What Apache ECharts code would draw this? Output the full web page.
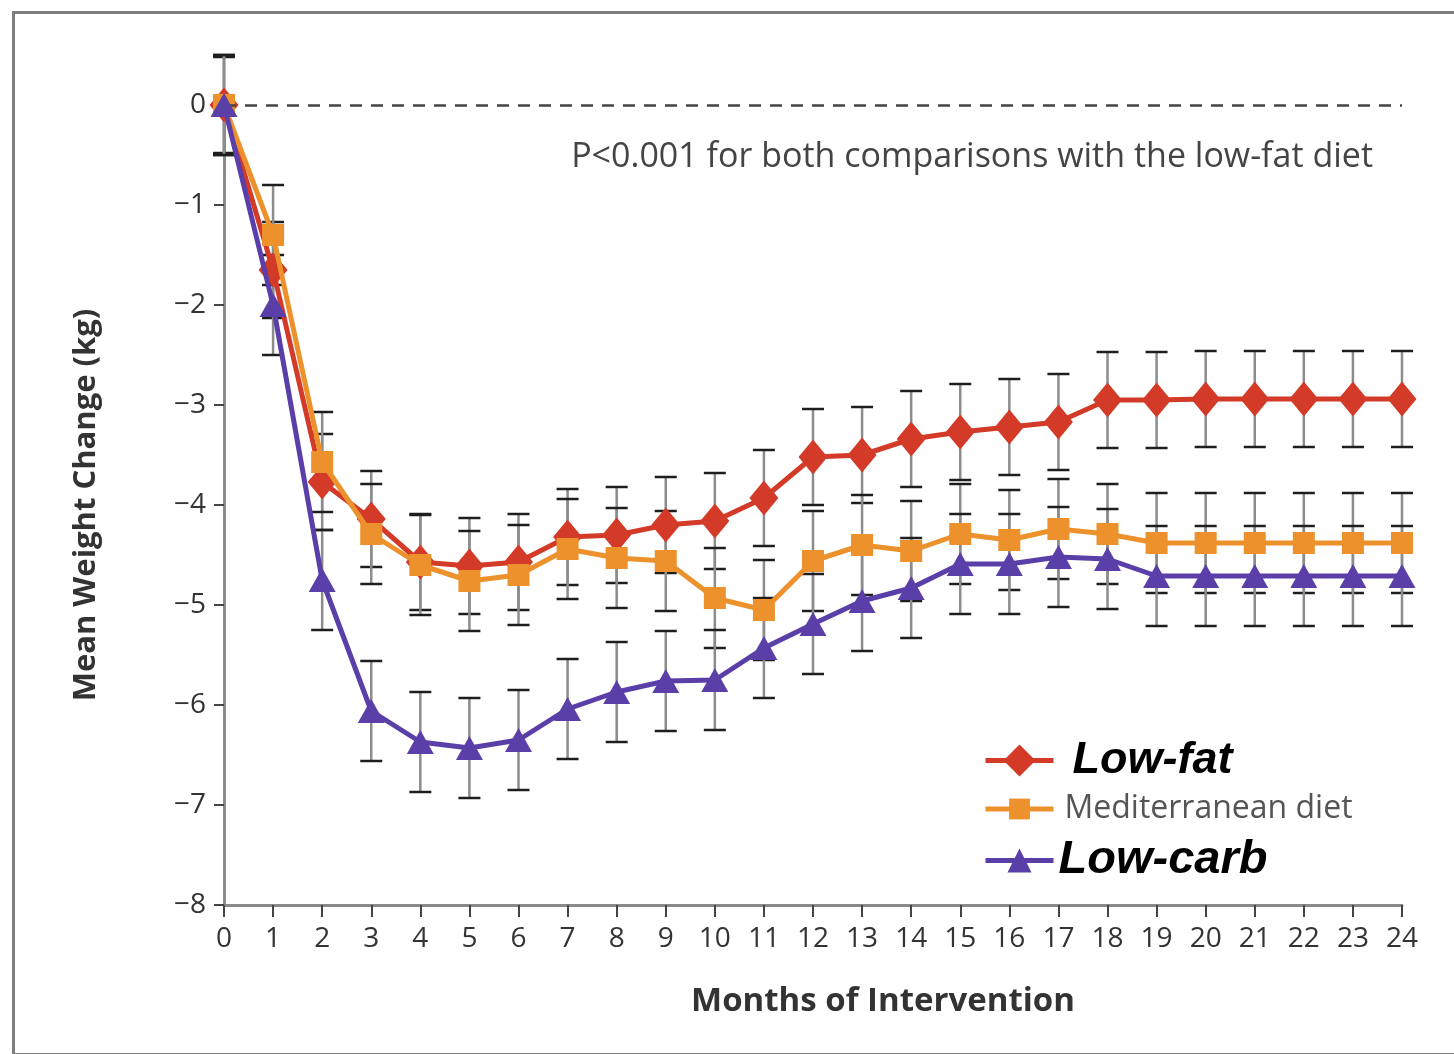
<!DOCTYPE html>
<html>
<head>
<meta charset="utf-8">
<title>Mean Weight Change</title>
<script src="https://cdn.jsdelivr.net/npm/echarts@6/dist/echarts.min.js"></script>
<style>
  html, body { margin: 0; padding: 0; background: #fff; }
  #chart { width: 1454px; height: 1054px; }
</style>
</head>
<body>
<div id="chart"></div>
<script>
// months of intervention
const months = [0, 1, 2, 3, 4, 5, 6, 7, 8, 9, 10, 11, 12, 13, 14, 15, 16, 17, 18, 19, 20, 21, 22, 23, 24];

// mean weight change (kg)
const lowFat = [0, -1.65, -3.77, -4.14, -4.57, -4.61, -4.57, -4.32, -4.30, -4.20, -4.16, -3.93, -3.52, -3.50, -3.34, -3.27, -3.22, -3.17, -2.95, -2.95, -2.94, -2.94, -2.94, -2.94, -2.94];
const mediterranean = [0, -1.30, -3.57, -4.29, -4.60, -4.76, -4.70, -4.44, -4.53, -4.56, -4.93, -5.05, -4.56, -4.40, -4.46, -4.29, -4.35, -4.24, -4.29, -4.38, -4.38, -4.38, -4.38, -4.38, -4.38];
const lowCarb = [0, -2.00, -4.75, -6.06, -6.37, -6.43, -6.35, -6.04, -5.87, -5.76, -5.75, -5.43, -5.19, -4.96, -4.83, -4.59, -4.59, -4.52, -4.54, -4.71, -4.71, -4.71, -4.71, -4.71, -4.71];

// half length of the error bars (kg)
const lowFatErr = 0.48;
const mediterraneanErr = 0.5;
const lowCarbErr = 0.5;

const yTicks = [0, -1, -2, -3, -4, -5, -6, -7, -8];

const RED = '#d33a28';
const ORANGE = '#ec912b';
const PURPLE = '#5a3fa9';
const FONT = '"Open Sans", "DejaVu Sans", sans-serif';
const BOLD_ITALIC = '"Liberation Sans", Arial, sans-serif';

const chart = echarts.init(document.getElementById('chart'));

const toXY = (vals) => months.map((m, i) => [m, vals[i]]);
const toErr = (vals, e) => months.map((m, i) => [m, vals[i] - e, vals[i] + e]);

function renderErr(params, api) {
  const x = api.value(0);
  const lo = api.coord([x, api.value(1)]);
  const hi = api.coord([x, api.value(2)]);
  const w = 11;
  const cap = { stroke: '#1e1e1e', lineWidth: 2.5 };
  return {
    type: 'group',
    children: [
      { type: 'line', shape: { x1: lo[0], y1: lo[1], x2: hi[0], y2: hi[1] }, style: { stroke: '#8c8c8c', lineWidth: 2.5 } },
      { type: 'line', shape: { x1: hi[0] - w, y1: hi[1], x2: hi[0] + w, y2: hi[1] }, style: cap },
      { type: 'line', shape: { x1: lo[0] - w, y1: lo[1], x2: lo[0] + w, y2: lo[1] }, style: cap }
    ]
  };
}

function errSeries(vals, e) {
  return {
    type: 'custom',
    renderItem: renderErr,
    data: toErr(vals, e),
    encode: { x: 0, y: [1, 2] },
    z: 1,
    silent: true
  };
}

function legendFor(name, top, rich, itemHeight) {
  return {
    data: [name],
    orient: 'vertical',
    left: 978,
    top: top,
    itemWidth: 68,
    itemHeight: itemHeight,
    selectedMode: false,
    lineStyle: { width: 5 },
    formatter: (n) => '{t|' + n + '}',
    textStyle: { rich: { t: rich } }
  };
}

chart.setOption({
  animation: false,
  backgroundColor: '#fff',
  grid: { left: 224, right: 52, top: 105, bottom: 149 },
  xAxis: {
    type: 'value',
    min: 0,
    max: 24,
    interval: 1,
    name: 'Months of Intervention',
    nameLocation: 'middle',
    nameGap: 80,
    nameTextStyle: { fontFamily: FONT, fontWeight: 'bold', fontSize: 33, color: '#333', padding: [0, 0, 0, 140] },
    axisLine: { onZero: false, lineStyle: { color: '#8a8a8a', width: 3 } },
    axisTick: { length: 12, lineStyle: { color: '#444', width: 2 } },
    axisLabel: { fontFamily: FONT, fontSize: 28, color: '#333', margin: 20 },
    splitLine: { show: false }
  },
  yAxis: {
    type: 'value',
    min: -8,
    max: 0,
    interval: 1,
    name: 'Mean Weight Change (kg)',
    nameLocation: 'middle',
    nameGap: 122,
    nameRotate: 90,
    nameTextStyle: { fontFamily: FONT, fontWeight: 'bold', fontSize: 31, color: '#333' },
    axisLine: { show: true, onZero: false, lineStyle: { color: '#8a8a8a', width: 3 } },
    axisTick: { show: true, length: 10, lineStyle: { color: '#444', width: 2 } },
    axisLabel: {
      fontFamily: FONT,
      fontSize: 28,
      color: '#333',
      margin: 18,
      formatter: (v) => (yTicks.includes(v) ? String(v).replace('-', '\u2212') : '')
    },
    splitLine: { show: false }
  },
  legend: [
    legendFor('Low-fat', 733,
      { fontFamily: BOLD_ITALIC, fontWeight: 'bold', fontStyle: 'italic', fontSize: 45, color: '#000', padding: [0, 0, 0, 14] }, 40),
    legendFor('Mediterranean diet', 788,
      { fontFamily: FONT, fontSize: 32, color: '#555', padding: [0, 0, 0, 6] }, 26),
    legendFor('Low-carb', 832,
      { fontFamily: BOLD_ITALIC, fontWeight: 'bold', fontStyle: 'italic', fontSize: 47, color: '#000', padding: [0, 0, 0, 0] }, 30)
  ],
  graphic: [
    {
      type: 'rect',
      left: 11,
      top: 10,
      shape: { width: 1460, height: 1042 },
      style: { fill: 'none', stroke: '#7d7d7d', lineWidth: 3 },
      silent: true
    },
    {
      type: 'text',
      right: 81,
      top: 140,
      style: {
        text: 'P<0.001 for both comparisons with the low-fat diet',
        font: '34px ' + FONT,
        fill: '#444'
      }
    }
  ],
  series: [
    errSeries(lowFat, lowFatErr),
    errSeries(mediterranean, mediterraneanErr),
    errSeries(lowCarb, lowCarbErr),
    {
      name: 'Low-fat',
      type: 'line',
      data: toXY(lowFat),
      symbol: 'diamond',
      symbolSize: [29, 35],
      lineStyle: { color: RED, width: 5 },
      itemStyle: { color: RED },
      z: 3,
      markLine: {
        silent: true,
        symbol: 'none',
        label: { show: false },
        lineStyle: { color: '#444', type: [12, 9], width: 2.5 },
        data: [{ yAxis: 0 }]
      }
    },
    {
      name: 'Mediterranean diet',
      type: 'line',
      data: toXY(mediterranean),
      symbol: 'rect',
      symbolSize: 22,
      lineStyle: { color: ORANGE, width: 5 },
      itemStyle: { color: ORANGE },
      z: 4
    },
    {
      name: 'Low-carb',
      type: 'line',
      data: toXY(lowCarb),
      symbol: 'triangle',
      symbolSize: [27, 24],
      lineStyle: { color: PURPLE, width: 5 },
      itemStyle: { color: PURPLE },
      z: 5
    }
  ]
});
</script>
</body>
</html>
